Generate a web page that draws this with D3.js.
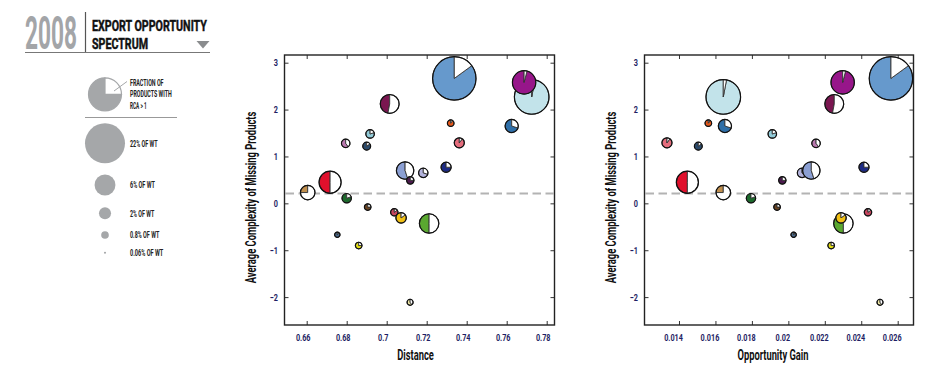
<!DOCTYPE html>
<html>
<head>
<meta charset="utf-8">
<script src="https://cdn.jsdelivr.net/npm/d3@7"></script>
<style>
  html, body { margin: 0; padding: 0; background: #fff; }
  svg { display: block; }
  text { font-family: Roboto, "Liberation Sans", sans-serif; font-weight: 700; }
</style>
</head>
<body>
<svg id="chart" width="940" height="374"></svg>
<script>
// ---------- data ----------
const names = ["lightblue","steelblue","purple","maroon","blue","orange","salmon","lightcyan","pinkpurple","slate",
  "lavender","periwinkle","darkpurple","navy","red","tan","darkgreen","brown","darkrose","green","gold","smallslate","yellow","lightyellow"];
const colors = ["#c2e3ea","#6699cc","#97168a","#7a1650","#2f6fa8","#e6581a","#e56d7d","#92cbd8","#b978ae","#2b4a6b",
  "#b3b3dc","#8b9fd3","#4d1a4f","#1d2b84","#e0102c","#c08f4e","#1c6a2c","#6b4522","#c6465f","#5aa830","#f1c015","#4a6a8c","#e4df14","#f0e9a6"];
const distance = [0.7725,0.7338,0.7687,0.7015,0.7625,0.7320,0.7363,0.6917,0.6795,0.6900,
  0.7183,0.7092,0.7118,0.7297,0.6717,0.6605,0.6800,0.6905,0.7038,0.7212,0.7072,0.6753,0.6860,0.7117];
const oppGain = [0.01643,0.02563,0.02298,0.02252,0.01652,0.01561,0.01334,0.01912,0.02152,0.01506,
  0.02075,0.02126,0.01967,0.02415,0.01446,0.01643,0.01795,0.01938,0.02437,0.02302,0.02289,0.02029,0.02235,0.02503];
const complexity = [2.27,2.665,2.58,2.12,1.65,1.71,1.29,1.48,1.28,1.22,
  0.65,0.70,0.49,0.77,0.45,0.23,0.11,-0.08,-0.19,-0.43,-0.31,-0.67,-0.90,-2.11];
const shareWT = [16.5,25.9,7.5,4.9,2.4,0.6,1.4,1.0,1.0,0.85,
  1.2,4.2,0.75,1.4,6.7,2.9,1.2,0.6,0.75,5.2,1.5,0.4,0.6,0.5];
const fracRCA = [0.97,0.85,0.96,0.47,0.7,0.9,0.9,0.8,0.6,0.85,
  0.7,0.55,0.75,0.75,0.5,0.25,0.8,0.75,0.85,0.5,0.85,0.9,0.75,0.6];

const xTicksDist = [0.66,0.68,0.70,0.72,0.74,0.76,0.78];
const xTicksGain = [0.014,0.016,0.018,0.020,0.022,0.024,0.026];
const yTicks = [-2,-1,0,1,2,3];
const refLine = 0.21;
const legendShares = [22,6,2,0.8,0.06];
const legendLabels = ["22% OF WT","6% OF WT","2% OF WT","0.8% OF WT","0.06% OF WT"];
const titleLines = ["EXPORT OPPORTUNITY","SPECTRUM"];

// ---------- setup ----------
const svg = d3.select("#chart");
const gray = "#a5a7a9";
const rScale = d3.scaleSqrt().domain([0,22]).range([0,20]);

function squeeze(sel, f) {
  sel.each(function(){ const w = this.getComputedTextLength(); d3.select(this).attr("textLength", w*f).attr("lengthAdjust","spacingAndGlyphs"); });
}
function fit(sel, w) { sel.attr("textLength", w).attr("lengthAdjust","spacingAndGlyphs"); }
// condensed text: narrow font-size to the target width, stretched vertically to the wanted glyph height
function squish(parent, str, x, y, targetW, fontSize, fill, weight) {
  const t = parent.append("text").attr("x",0).attr("y",0).attr("font-size",fontSize)
    .attr("fill",fill).attr("font-weight",weight).text(str);
  const w = t.node().getComputedTextLength();
  t.attr("font-size", fontSize*targetW/w).attr("transform",`translate(${x},${y}) scale(1,${w/targetW})`);
  return t;
}

// ---------- header ----------
squish(svg, "2008", 25, 48.5, 52, 46, "#a3a5a8", 400);
svg.append("line").attr("x1",85.5).attr("x2",85.5).attr("y1",12).attr("y2",52).attr("stroke","#555").attr("stroke-width",1.2);
svg.append("line").attr("x1",25).attr("x2",210).attr("y1",52.5).attr("y2",52.5).attr("stroke","#777").attr("stroke-width",1.2);
squish(svg, titleLines[0], 92, 31.3, 115, 14.7, "#111", 700).attr("stroke","#111").attr("stroke-width",0.35);
squish(svg, titleLines[1], 92, 48.6, 56, 14.7, "#111", 700).attr("stroke","#111").attr("stroke-width",0.35);
svg.append("path").attr("d","M196.5,41 L209.5,41 L203,48.5 Z").attr("fill","#8a8c8e");

// ---------- legend ----------
const lg = svg.append("g");
const lpie = d3.pie().sort(null).startAngle(-0.75*2*Math.PI).endAngle(0.25*2*Math.PI)([0.75,0.25]);
const larc = d3.arc().innerRadius(0).outerRadius(16.5);
lg.selectAll("path.lp").data(lpie).join("path").attr("class","lp")
  .attr("transform","translate(105,94.3)").attr("d",larc)
  .attr("fill",(d,i)=> i===0 ? gray : "#fff").attr("stroke",gray).attr("stroke-width",1.2);
lg.append("line").attr("x1",114).attr("y1",91).attr("x2",127).attr("y2",81.5).attr("stroke",gray).attr("stroke-width",1);
[["FRACTION OF",85.7,33.5],["PRODUCTS WITH",97.3,41.7],["RCA > 1",109,16.7]].forEach(t=>{
  squish(lg, t[0], 130, t[1], t[2], 8.7, "#222", 700);
});
lg.append("line").attr("x1",85).attr("x2",177).attr("y1",117.5).attr("y2",117.5).attr("stroke","#999").attr("stroke-width",1);
const legY = [143.3,185,213.3,235,252.7];
const legW = [27.7,25,24.3,29.3,33.3];
legendShares.forEach((s,i)=>{
  lg.append("circle").attr("cx",105).attr("cy",legY[i]).attr("r",Math.max(rScale(s),1)).attr("fill",gray);
  squish(lg, legendLabels[i], 130, legY[i]+3.2, legW[i], 8.7, "#222", 700);
});

// ---------- panels ----------
const yTop = 55, yBot = 325;
const y = d3.scaleLinear().domain([-2.595,3.164]).range([yBot,yTop]);

function panel(x0, x1, xDomain, xVals, xTicks, xFmt, xLabel, xLabelW, labShift) {
  const x = d3.scaleLinear().domain(xDomain).range([x0,x1]);
  const g = svg.append("g");
  // reference dashed line
  g.append("line").attr("x1",x0+1).attr("x2",x1-1).attr("y1",y(refLine)).attr("y2",y(refLine))
    .attr("stroke","#b3b3b3").attr("stroke-width",2).attr("stroke-dasharray","8.5,4.5");
  // axes (inner ticks on all four sides)
  const ax = (sel)=>{ sel.select(".domain").remove(); sel.selectAll(".tick line").attr("stroke","#333"); };
  const bx = g.append("g").attr("transform",`translate(0,${yBot})`)
    .call(d3.axisBottom(x).tickValues(xTicks).tickSize(-4).tickPadding(9).tickFormat(xFmt)).call(ax);
  bx.selectAll("text").attr("font-size",9.8).attr("fill","#1e1e64").attr("font-family","Roboto, sans-serif").attr("font-weight",700)
    .attr("dx",labShift).call(squeeze,0.74);
  g.append("g").attr("transform",`translate(0,${yTop})`)
    .call(d3.axisTop(x).tickValues(xTicks).tickSize(-4).tickFormat("")).call(ax);
  const ly = g.append("g").attr("transform",`translate(${x0},0)`)
    .call(d3.axisLeft(y).tickValues(yTicks).tickSize(-4).tickPadding(6.5).tickFormat(d3.format("d"))).call(ax);
  ly.selectAll("text").attr("font-size",9.8).attr("fill","#1e1e64").attr("font-family","Roboto, sans-serif").attr("font-weight",700)
    .call(squeeze,0.74);
  g.append("g").attr("transform",`translate(${x1},0)`)
    .call(d3.axisRight(y).tickValues(yTicks).tickSize(-4).tickFormat("")).call(ax);
  // frame
  g.append("rect").attr("x",x0).attr("y",yTop).attr("width",x1-x0).attr("height",yBot-yTop)
    .attr("fill","none").attr("stroke","#222").attr("stroke-width",1.4);
  // bubbles
  const arc = d3.arc().innerRadius(0);
  const bubbles = g.selectAll("g.bub").data(names.map((n,i)=>i)).join("g").attr("class","bub")
    .attr("transform",i=>`translate(${x(xVals[i])},${y(complexity[i])})`);
  bubbles.each(function(i){
    const r = rScale(shareWT[i]);
    const f = fracRCA[i];
    const pie = d3.pie().sort(null).startAngle(-f*2*Math.PI).endAngle((1-f)*2*Math.PI)([f,1-f]);
    d3.select(this).selectAll("path").data(pie).join("path")
      .attr("d",d=>arc.outerRadius(r)(d))
      .attr("fill",(d,k)=> k===0 ? colors[i] : "#fff")
      .attr("stroke","#333").attr("stroke-width",0.9).attr("stroke-linejoin","round");
    d3.select(this).append("circle").attr("r",r).attr("fill","none").attr("stroke","#111").attr("stroke-width",1.2);
  });
  // axis titles
  fit(g.append("text").attr("x",(x0+x1)/2+labShift).attr("y",360).attr("text-anchor","middle")
    .attr("font-size",15).attr("fill","#111").text(xLabel), xLabelW);
  fit(g.append("text").attr("transform",`translate(${x0-28.3},${(yTop+yBot)/2+7.5}) rotate(-90)`)
    .attr("text-anchor","middle").attr("font-size",14.5).attr("fill","#111")
    .text("Average Complexity of Missing Products"), 171.6);
}

panel(284.5, 554.5, [0.6489,0.7839], distance, xTicksDist, d3.format(""), "Distance", 36.7, -4);
panel(644.5, 913.5, [0.012107,0.026867], oppGain, xTicksGain, d3.format(""), "Opportunity Gain", 71, -6);
</script>
</body>
</html>
